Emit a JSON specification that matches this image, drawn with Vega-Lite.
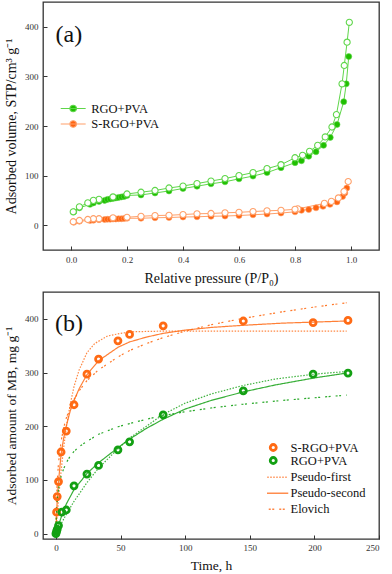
{
  "$schema": "https://vega.github.io/schema/vega-lite/v6.json",
  "padding": {"left": 3, "top": 1, "right": 9, "bottom": 2},
  "spacing": 5,
  "datasets": {
    "iso": [
      {"s": "RGO+PVA", "b": "ads", "p": 0.01, "v": 27},
      {"s": "RGO+PVA", "b": "ads", "p": 0.03, "v": 35},
      {"s": "RGO+PVA", "b": "ads", "p": 0.068, "v": 42},
      {"s": "RGO+PVA", "b": "ads", "p": 0.08, "v": 45},
      {"s": "RGO+PVA", "b": "ads", "p": 0.10, "v": 48},
      {"s": "RGO+PVA", "b": "ads", "p": 0.12, "v": 50},
      {"s": "RGO+PVA", "b": "ads", "p": 0.13, "v": 52},
      {"s": "RGO+PVA", "b": "ads", "p": 0.14, "v": 53},
      {"s": "RGO+PVA", "b": "ads", "p": 0.15, "v": 54},
      {"s": "RGO+PVA", "b": "ads", "p": 0.16, "v": 55},
      {"s": "RGO+PVA", "b": "ads", "p": 0.17, "v": 56},
      {"s": "RGO+PVA", "b": "ads", "p": 0.18, "v": 57},
      {"s": "RGO+PVA", "b": "ads", "p": 0.19, "v": 58},
      {"s": "RGO+PVA", "b": "ads", "p": 0.20, "v": 60},
      {"s": "RGO+PVA", "b": "ads", "p": 0.25, "v": 61},
      {"s": "RGO+PVA", "b": "ads", "p": 0.30, "v": 65},
      {"s": "RGO+PVA", "b": "ads", "p": 0.35, "v": 69},
      {"s": "RGO+PVA", "b": "ads", "p": 0.40, "v": 74},
      {"s": "RGO+PVA", "b": "ads", "p": 0.45, "v": 78.6},
      {"s": "RGO+PVA", "b": "ads", "p": 0.50, "v": 83.5},
      {"s": "RGO+PVA", "b": "ads", "p": 0.55, "v": 87.5},
      {"s": "RGO+PVA", "b": "ads", "p": 0.60, "v": 93.5},
      {"s": "RGO+PVA", "b": "ads", "p": 0.65, "v": 99},
      {"s": "RGO+PVA", "b": "ads", "p": 0.70, "v": 106},
      {"s": "RGO+PVA", "b": "ads", "p": 0.75, "v": 116},
      {"s": "RGO+PVA", "b": "ads", "p": 0.80, "v": 126},
      {"s": "RGO+PVA", "b": "ads", "p": 0.823, "v": 130},
      {"s": "RGO+PVA", "b": "ads", "p": 0.849, "v": 139},
      {"s": "RGO+PVA", "b": "ads", "p": 0.875, "v": 148},
      {"s": "RGO+PVA", "b": "ads", "p": 0.902, "v": 161},
      {"s": "RGO+PVA", "b": "ads", "p": 0.926, "v": 177},
      {"s": "RGO+PVA", "b": "ads", "p": 0.95, "v": 203},
      {"s": "RGO+PVA", "b": "ads", "p": 0.974, "v": 249},
      {"s": "RGO+PVA", "b": "ads", "p": 0.983, "v": 285},
      {"s": "RGO+PVA", "b": "ads", "p": 0.992, "v": 340},
      {"s": "RGO+PVA", "b": "des", "p": 0.994, "v": 409},
      {"s": "RGO+PVA", "b": "des", "p": 0.986, "v": 369},
      {"s": "RGO+PVA", "b": "des", "p": 0.976, "v": 322},
      {"s": "RGO+PVA", "b": "des", "p": 0.968, "v": 285},
      {"s": "RGO+PVA", "b": "des", "p": 0.948, "v": 223},
      {"s": "RGO+PVA", "b": "des", "p": 0.932, "v": 198},
      {"s": "RGO+PVA", "b": "des", "p": 0.908, "v": 178},
      {"s": "RGO+PVA", "b": "des", "p": 0.881, "v": 161},
      {"s": "RGO+PVA", "b": "des", "p": 0.852, "v": 149},
      {"s": "RGO+PVA", "b": "des", "p": 0.827, "v": 141},
      {"s": "RGO+PVA", "b": "des", "p": 0.80, "v": 136},
      {"s": "RGO+PVA", "b": "des", "p": 0.75, "v": 122},
      {"s": "RGO+PVA", "b": "des", "p": 0.70, "v": 114},
      {"s": "RGO+PVA", "b": "des", "p": 0.65, "v": 106},
      {"s": "RGO+PVA", "b": "des", "p": 0.60, "v": 100},
      {"s": "RGO+PVA", "b": "des", "p": 0.55, "v": 94},
      {"s": "RGO+PVA", "b": "des", "p": 0.50, "v": 89},
      {"s": "RGO+PVA", "b": "des", "p": 0.45, "v": 84},
      {"s": "RGO+PVA", "b": "des", "p": 0.40, "v": 79},
      {"s": "RGO+PVA", "b": "des", "p": 0.35, "v": 75},
      {"s": "RGO+PVA", "b": "des", "p": 0.30, "v": 70},
      {"s": "RGO+PVA", "b": "des", "p": 0.25, "v": 66.5},
      {"s": "RGO+PVA", "b": "des", "p": 0.20, "v": 63},
      {"s": "RGO+PVA", "b": "des", "p": 0.15, "v": 57},
      {"s": "RGO+PVA", "b": "des", "p": 0.10, "v": 52},
      {"s": "RGO+PVA", "b": "des", "p": 0.08, "v": 50},
      {"s": "RGO+PVA", "b": "des", "p": 0.06, "v": 45},
      {"s": "RGO+PVA", "b": "des", "p": 0.03, "v": 37},
      {"s": "RGO+PVA", "b": "des", "p": 0.008, "v": 27},
      {"s": "S-RGO+PVA", "b": "ads", "p": 0.01, "v": 6},
      {"s": "S-RGO+PVA", "b": "ads", "p": 0.03, "v": 8},
      {"s": "S-RGO+PVA", "b": "ads", "p": 0.068, "v": 9.5},
      {"s": "S-RGO+PVA", "b": "ads", "p": 0.08, "v": 10},
      {"s": "S-RGO+PVA", "b": "ads", "p": 0.10, "v": 11},
      {"s": "S-RGO+PVA", "b": "ads", "p": 0.12, "v": 11.5},
      {"s": "S-RGO+PVA", "b": "ads", "p": 0.13, "v": 12},
      {"s": "S-RGO+PVA", "b": "ads", "p": 0.14, "v": 12},
      {"s": "S-RGO+PVA", "b": "ads", "p": 0.15, "v": 12.5},
      {"s": "S-RGO+PVA", "b": "ads", "p": 0.16, "v": 12.5},
      {"s": "S-RGO+PVA", "b": "ads", "p": 0.17, "v": 13},
      {"s": "S-RGO+PVA", "b": "ads", "p": 0.18, "v": 13},
      {"s": "S-RGO+PVA", "b": "ads", "p": 0.19, "v": 13.5},
      {"s": "S-RGO+PVA", "b": "ads", "p": 0.20, "v": 14},
      {"s": "S-RGO+PVA", "b": "ads", "p": 0.25, "v": 14},
      {"s": "S-RGO+PVA", "b": "ads", "p": 0.30, "v": 15},
      {"s": "S-RGO+PVA", "b": "ads", "p": 0.35, "v": 15.5},
      {"s": "S-RGO+PVA", "b": "ads", "p": 0.40, "v": 16.5},
      {"s": "S-RGO+PVA", "b": "ads", "p": 0.45, "v": 17},
      {"s": "S-RGO+PVA", "b": "ads", "p": 0.50, "v": 18},
      {"s": "S-RGO+PVA", "b": "ads", "p": 0.55, "v": 18.5},
      {"s": "S-RGO+PVA", "b": "ads", "p": 0.60, "v": 19.5},
      {"s": "S-RGO+PVA", "b": "ads", "p": 0.65, "v": 21},
      {"s": "S-RGO+PVA", "b": "ads", "p": 0.70, "v": 22.5},
      {"s": "S-RGO+PVA", "b": "ads", "p": 0.75, "v": 24.5},
      {"s": "S-RGO+PVA", "b": "ads", "p": 0.80, "v": 27},
      {"s": "S-RGO+PVA", "b": "ads", "p": 0.823, "v": 30},
      {"s": "S-RGO+PVA", "b": "ads", "p": 0.849, "v": 31.5},
      {"s": "S-RGO+PVA", "b": "ads", "p": 0.875, "v": 35},
      {"s": "S-RGO+PVA", "b": "ads", "p": 0.90, "v": 38},
      {"s": "S-RGO+PVA", "b": "ads", "p": 0.925, "v": 42},
      {"s": "S-RGO+PVA", "b": "ads", "p": 0.95, "v": 47},
      {"s": "S-RGO+PVA", "b": "ads", "p": 0.97, "v": 58},
      {"s": "S-RGO+PVA", "b": "ads", "p": 0.978, "v": 65},
      {"s": "S-RGO+PVA", "b": "ads", "p": 0.985, "v": 75},
      {"s": "S-RGO+PVA", "b": "des", "p": 0.99, "v": 88},
      {"s": "S-RGO+PVA", "b": "des", "p": 0.975, "v": 68},
      {"s": "S-RGO+PVA", "b": "des", "p": 0.955, "v": 55},
      {"s": "S-RGO+PVA", "b": "des", "p": 0.93, "v": 48},
      {"s": "S-RGO+PVA", "b": "des", "p": 0.905, "v": 44},
      {"s": "S-RGO+PVA", "b": "des", "p": 0.81, "v": 33},
      {"s": "S-RGO+PVA", "b": "des", "p": 0.80, "v": 32},
      {"s": "S-RGO+PVA", "b": "des", "p": 0.75, "v": 30},
      {"s": "S-RGO+PVA", "b": "des", "p": 0.70, "v": 29},
      {"s": "S-RGO+PVA", "b": "des", "p": 0.65, "v": 27.5},
      {"s": "S-RGO+PVA", "b": "des", "p": 0.60, "v": 26},
      {"s": "S-RGO+PVA", "b": "des", "p": 0.55, "v": 25},
      {"s": "S-RGO+PVA", "b": "des", "p": 0.50, "v": 23.6},
      {"s": "S-RGO+PVA", "b": "des", "p": 0.45, "v": 23},
      {"s": "S-RGO+PVA", "b": "des", "p": 0.40, "v": 21.5},
      {"s": "S-RGO+PVA", "b": "des", "p": 0.35, "v": 20},
      {"s": "S-RGO+PVA", "b": "des", "p": 0.30, "v": 19.5},
      {"s": "S-RGO+PVA", "b": "des", "p": 0.25, "v": 18},
      {"s": "S-RGO+PVA", "b": "des", "p": 0.20, "v": 16},
      {"s": "S-RGO+PVA", "b": "des", "p": 0.15, "v": 15},
      {"s": "S-RGO+PVA", "b": "des", "p": 0.10, "v": 13},
      {"s": "S-RGO+PVA", "b": "des", "p": 0.08, "v": 13},
      {"s": "S-RGO+PVA", "b": "des", "p": 0.06, "v": 11.5},
      {"s": "S-RGO+PVA", "b": "des", "p": 0.03, "v": 9.5},
      {"s": "S-RGO+PVA", "b": "des", "p": 0.008, "v": 7}
    ],
    "kin": [
      {"s": "S-RGO+PVA", "t": 0.5, "q": 40},
      {"s": "S-RGO+PVA", "t": 1, "q": 69},
      {"s": "S-RGO+PVA", "t": 2, "q": 97},
      {"s": "S-RGO+PVA", "t": 4, "q": 152},
      {"s": "S-RGO+PVA", "t": 8, "q": 191},
      {"s": "S-RGO+PVA", "t": 14, "q": 240},
      {"s": "S-RGO+PVA", "t": 24, "q": 297},
      {"s": "S-RGO+PVA", "t": 33, "q": 325},
      {"s": "S-RGO+PVA", "t": 48, "q": 359},
      {"s": "S-RGO+PVA", "t": 57, "q": 371},
      {"s": "S-RGO+PVA", "t": 83, "q": 387},
      {"s": "S-RGO+PVA", "t": 145, "q": 396},
      {"s": "S-RGO+PVA", "t": 199, "q": 393},
      {"s": "S-RGO+PVA", "t": 226, "q": 397},
      {"s": "RGO+PVA", "t": 0, "q": 0},
      {"s": "RGO+PVA", "t": 0.5, "q": 4},
      {"s": "RGO+PVA", "t": 1, "q": 8},
      {"s": "RGO+PVA", "t": 2, "q": 15},
      {"s": "RGO+PVA", "t": 4.6, "q": 40},
      {"s": "RGO+PVA", "t": 8, "q": 44},
      {"s": "RGO+PVA", "t": 14, "q": 89},
      {"s": "RGO+PVA", "t": 24, "q": 111},
      {"s": "RGO+PVA", "t": 33, "q": 127},
      {"s": "RGO+PVA", "t": 48, "q": 156},
      {"s": "RGO+PVA", "t": 57, "q": 171},
      {"s": "RGO+PVA", "t": 83, "q": 221},
      {"s": "RGO+PVA", "t": 145, "q": 266},
      {"s": "RGO+PVA", "t": 199, "q": 297},
      {"s": "RGO+PVA", "t": 226, "q": 299}
    ],
    "fit": [
      {"s": "S-RGO+PVA", "m": "Pseudo-first", "t": 0, "q": 0},
      {"s": "S-RGO+PVA", "m": "Pseudo-first", "t": 1, "q": 32},
      {"s": "S-RGO+PVA", "m": "Pseudo-first", "t": 2, "q": 64},
      {"s": "S-RGO+PVA", "m": "Pseudo-first", "t": 4, "q": 117},
      {"s": "S-RGO+PVA", "m": "Pseudo-first", "t": 6, "q": 160},
      {"s": "S-RGO+PVA", "m": "Pseudo-first", "t": 8, "q": 198},
      {"s": "S-RGO+PVA", "m": "Pseudo-first", "t": 11, "q": 240},
      {"s": "S-RGO+PVA", "m": "Pseudo-first", "t": 14, "q": 274},
      {"s": "S-RGO+PVA", "m": "Pseudo-first", "t": 18, "q": 305},
      {"s": "S-RGO+PVA", "m": "Pseudo-first", "t": 24, "q": 337},
      {"s": "S-RGO+PVA", "m": "Pseudo-first", "t": 30, "q": 354},
      {"s": "S-RGO+PVA", "m": "Pseudo-first", "t": 40, "q": 368},
      {"s": "S-RGO+PVA", "m": "Pseudo-first", "t": 50, "q": 373},
      {"s": "S-RGO+PVA", "m": "Pseudo-first", "t": 60, "q": 376},
      {"s": "S-RGO+PVA", "m": "Pseudo-first", "t": 80, "q": 377},
      {"s": "S-RGO+PVA", "m": "Pseudo-first", "t": 120, "q": 377},
      {"s": "S-RGO+PVA", "m": "Pseudo-first", "t": 160, "q": 377},
      {"s": "S-RGO+PVA", "m": "Pseudo-first", "t": 225, "q": 377},
      {"s": "S-RGO+PVA", "m": "Pseudo-second", "t": 0, "q": 0},
      {"s": "S-RGO+PVA", "m": "Pseudo-second", "t": 0.5, "q": 35},
      {"s": "S-RGO+PVA", "m": "Pseudo-second", "t": 1, "q": 62},
      {"s": "S-RGO+PVA", "m": "Pseudo-second", "t": 2, "q": 97},
      {"s": "S-RGO+PVA", "m": "Pseudo-second", "t": 4, "q": 148},
      {"s": "S-RGO+PVA", "m": "Pseudo-second", "t": 6, "q": 178},
      {"s": "S-RGO+PVA", "m": "Pseudo-second", "t": 8, "q": 200},
      {"s": "S-RGO+PVA", "m": "Pseudo-second", "t": 11, "q": 228},
      {"s": "S-RGO+PVA", "m": "Pseudo-second", "t": 14, "q": 248},
      {"s": "S-RGO+PVA", "m": "Pseudo-second", "t": 18, "q": 270},
      {"s": "S-RGO+PVA", "m": "Pseudo-second", "t": 24, "q": 296},
      {"s": "S-RGO+PVA", "m": "Pseudo-second", "t": 33, "q": 322},
      {"s": "S-RGO+PVA", "m": "Pseudo-second", "t": 48, "q": 347},
      {"s": "S-RGO+PVA", "m": "Pseudo-second", "t": 57, "q": 357},
      {"s": "S-RGO+PVA", "m": "Pseudo-second", "t": 70, "q": 366},
      {"s": "S-RGO+PVA", "m": "Pseudo-second", "t": 83, "q": 373},
      {"s": "S-RGO+PVA", "m": "Pseudo-second", "t": 100, "q": 379},
      {"s": "S-RGO+PVA", "m": "Pseudo-second", "t": 120, "q": 384},
      {"s": "S-RGO+PVA", "m": "Pseudo-second", "t": 145, "q": 388},
      {"s": "S-RGO+PVA", "m": "Pseudo-second", "t": 175, "q": 392},
      {"s": "S-RGO+PVA", "m": "Pseudo-second", "t": 200, "q": 394},
      {"s": "S-RGO+PVA", "m": "Pseudo-second", "t": 225, "q": 396},
      {"s": "S-RGO+PVA", "m": "Elovich", "t": 0, "q": 0},
      {"s": "S-RGO+PVA", "m": "Elovich", "t": 0.25, "q": 39},
      {"s": "S-RGO+PVA", "m": "Elovich", "t": 0.5, "q": 63},
      {"s": "S-RGO+PVA", "m": "Elovich", "t": 1, "q": 95},
      {"s": "S-RGO+PVA", "m": "Elovich", "t": 2, "q": 132},
      {"s": "S-RGO+PVA", "m": "Elovich", "t": 4, "q": 172},
      {"s": "S-RGO+PVA", "m": "Elovich", "t": 6, "q": 197},
      {"s": "S-RGO+PVA", "m": "Elovich", "t": 8, "q": 215},
      {"s": "S-RGO+PVA", "m": "Elovich", "t": 11, "q": 235},
      {"s": "S-RGO+PVA", "m": "Elovich", "t": 14, "q": 250},
      {"s": "S-RGO+PVA", "m": "Elovich", "t": 18, "q": 266},
      {"s": "S-RGO+PVA", "m": "Elovich", "t": 24, "q": 285},
      {"s": "S-RGO+PVA", "m": "Elovich", "t": 33, "q": 305},
      {"s": "S-RGO+PVA", "m": "Elovich", "t": 48, "q": 329},
      {"s": "S-RGO+PVA", "m": "Elovich", "t": 57, "q": 341},
      {"s": "S-RGO+PVA", "m": "Elovich", "t": 70, "q": 354},
      {"s": "S-RGO+PVA", "m": "Elovich", "t": 83, "q": 365},
      {"s": "S-RGO+PVA", "m": "Elovich", "t": 100, "q": 377},
      {"s": "S-RGO+PVA", "m": "Elovich", "t": 120, "q": 389},
      {"s": "S-RGO+PVA", "m": "Elovich", "t": 145, "q": 401},
      {"s": "S-RGO+PVA", "m": "Elovich", "t": 175, "q": 413},
      {"s": "S-RGO+PVA", "m": "Elovich", "t": 200, "q": 422},
      {"s": "S-RGO+PVA", "m": "Elovich", "t": 225, "q": 430},
      {"s": "RGO+PVA", "m": "Pseudo-first", "t": 0, "q": 0},
      {"s": "RGO+PVA", "m": "Pseudo-first", "t": 2, "q": 9},
      {"s": "RGO+PVA", "m": "Pseudo-first", "t": 4, "q": 18},
      {"s": "RGO+PVA", "m": "Pseudo-first", "t": 8, "q": 36},
      {"s": "RGO+PVA", "m": "Pseudo-first", "t": 14, "q": 60},
      {"s": "RGO+PVA", "m": "Pseudo-first", "t": 24, "q": 95},
      {"s": "RGO+PVA", "m": "Pseudo-first", "t": 33, "q": 122},
      {"s": "RGO+PVA", "m": "Pseudo-first", "t": 48, "q": 158},
      {"s": "RGO+PVA", "m": "Pseudo-first", "t": 57, "q": 178},
      {"s": "RGO+PVA", "m": "Pseudo-first", "t": 70, "q": 200},
      {"s": "RGO+PVA", "m": "Pseudo-first", "t": 83, "q": 222},
      {"s": "RGO+PVA", "m": "Pseudo-first", "t": 100, "q": 243},
      {"s": "RGO+PVA", "m": "Pseudo-first", "t": 120, "q": 260},
      {"s": "RGO+PVA", "m": "Pseudo-first", "t": 145, "q": 276},
      {"s": "RGO+PVA", "m": "Pseudo-first", "t": 170, "q": 288},
      {"s": "RGO+PVA", "m": "Pseudo-first", "t": 200, "q": 297},
      {"s": "RGO+PVA", "m": "Pseudo-first", "t": 225, "q": 302},
      {"s": "RGO+PVA", "m": "Pseudo-second", "t": 0, "q": 0},
      {"s": "RGO+PVA", "m": "Pseudo-second", "t": 1, "q": 8},
      {"s": "RGO+PVA", "m": "Pseudo-second", "t": 2, "q": 15},
      {"s": "RGO+PVA", "m": "Pseudo-second", "t": 4, "q": 30},
      {"s": "RGO+PVA", "m": "Pseudo-second", "t": 8, "q": 55},
      {"s": "RGO+PVA", "m": "Pseudo-second", "t": 14, "q": 82},
      {"s": "RGO+PVA", "m": "Pseudo-second", "t": 24, "q": 112},
      {"s": "RGO+PVA", "m": "Pseudo-second", "t": 33, "q": 132},
      {"s": "RGO+PVA", "m": "Pseudo-second", "t": 48, "q": 160},
      {"s": "RGO+PVA", "m": "Pseudo-second", "t": 57, "q": 176},
      {"s": "RGO+PVA", "m": "Pseudo-second", "t": 70, "q": 196},
      {"s": "RGO+PVA", "m": "Pseudo-second", "t": 83, "q": 213},
      {"s": "RGO+PVA", "m": "Pseudo-second", "t": 100, "q": 232},
      {"s": "RGO+PVA", "m": "Pseudo-second", "t": 120, "q": 248},
      {"s": "RGO+PVA", "m": "Pseudo-second", "t": 145, "q": 264},
      {"s": "RGO+PVA", "m": "Pseudo-second", "t": 170, "q": 277},
      {"s": "RGO+PVA", "m": "Pseudo-second", "t": 200, "q": 290},
      {"s": "RGO+PVA", "m": "Pseudo-second", "t": 225, "q": 299},
      {"s": "RGO+PVA", "m": "Elovich", "t": 0, "q": 0},
      {"s": "RGO+PVA", "m": "Elovich", "t": 0.25, "q": 26},
      {"s": "RGO+PVA", "m": "Elovich", "t": 0.5, "q": 41},
      {"s": "RGO+PVA", "m": "Elovich", "t": 1, "q": 60},
      {"s": "RGO+PVA", "m": "Elovich", "t": 2, "q": 83},
      {"s": "RGO+PVA", "m": "Elovich", "t": 4, "q": 107},
      {"s": "RGO+PVA", "m": "Elovich", "t": 6, "q": 121},
      {"s": "RGO+PVA", "m": "Elovich", "t": 8, "q": 132},
      {"s": "RGO+PVA", "m": "Elovich", "t": 11, "q": 144},
      {"s": "RGO+PVA", "m": "Elovich", "t": 14, "q": 153},
      {"s": "RGO+PVA", "m": "Elovich", "t": 18, "q": 162},
      {"s": "RGO+PVA", "m": "Elovich", "t": 24, "q": 172},
      {"s": "RGO+PVA", "m": "Elovich", "t": 33, "q": 185},
      {"s": "RGO+PVA", "m": "Elovich", "t": 48, "q": 199},
      {"s": "RGO+PVA", "m": "Elovich", "t": 57, "q": 205},
      {"s": "RGO+PVA", "m": "Elovich", "t": 70, "q": 213},
      {"s": "RGO+PVA", "m": "Elovich", "t": 83, "q": 220},
      {"s": "RGO+PVA", "m": "Elovich", "t": 100, "q": 227},
      {"s": "RGO+PVA", "m": "Elovich", "t": 120, "q": 234},
      {"s": "RGO+PVA", "m": "Elovich", "t": 145, "q": 241},
      {"s": "RGO+PVA", "m": "Elovich", "t": 175, "q": 248},
      {"s": "RGO+PVA", "m": "Elovich", "t": 200, "q": 253},
      {"s": "RGO+PVA", "m": "Elovich", "t": 225, "q": 258}
    ],
    "tags": [
      {"panel": "a", "x": -0.055, "y": 384, "label": "(a)"},
      {"panel": "b", "x": -0.8, "y": 391, "label": "(b)"}
    ]
  },
  "resolve": {
    "scale": {"x": "independent", "y": "independent", "stroke": "independent", "fill": "independent", "strokeDash": "independent", "opacity": "independent"},
    "legend": {"stroke": "independent", "fill": "independent", "strokeDash": "independent", "opacity": "independent"}
  },
  "vconcat": [
    {
      "width": 336,
      "height": 248,
      "layer": [
        {
          "data": {"name": "iso"},
          "mark": {"type": "line", "strokeWidth": 1},
          "encoding": {
            "x": {"field": "p", "type": "quantitative", "scale": {"domain": [-0.1, 1.1], "nice": false, "zero": false},
              "axis": {"values": [0, 0.1, 0.2, 0.3, 0.4, 0.5, 0.6, 0.7, 0.8, 0.9, 1.0], "labelExpr": "round(datum.value*10) % 2 === 0 ? format(datum.value, '.1f') : ''", "title": "Relative pressure (P/P₀)", "titleFontSize": 14, "titlePadding": 7, "labelFontSize": 9, "labelPadding": 9, "labelFont": "Liberation Serif", "titleFont": "Liberation Serif"}},
            "y": {"field": "v", "type": "quantitative", "scale": {"domain": [-50, 450], "nice": false, "zero": false},
              "axis": {"values": [0, 50, 100, 150, 200, 250, 300, 350, 400], "labelExpr": "datum.value % 100 === 0 ? datum.label : ''", "title": "Adsorbed volume, STP/cm³ g⁻¹", "titleFontSize": 14, "titlePadding": 6, "labelFontSize": 9, "labelPadding": 9, "labelFont": "Liberation Serif", "titleFont": "Liberation Serif"}},
            "detail": {"field": "b"},
            "stroke": {"field": "s", "type": "nominal", "scale": {"domain": ["RGO+PVA", "S-RGO+PVA"], "range": ["#5fd64a", "#ffa06a"]},
              "legend": {"title": null, "orient": "none", "legendX": 21.7, "legendY": 98, "symbolType": "M-1.6,0L1.6,0M0.42,0A0.42,0.42,0,1,1,-0.42,0A0.42,0.42,0,1,1,0.42,0", "symbolSize": 243, "symbolStrokeWidth": 1.2, "labelFontSize": 12.5, "labelOffset": 9.5, "rowPadding": 0.5, "labelColor": "#111", "labelFont": "Liberation Serif"}}
          }
        },
        {
          "data": {"name": "iso"},
          "transform": [{"filter": "datum.b === 'ads'"}],
          "mark": {"type": "point", "shape": "circle", "filled": true, "size": 36, "strokeWidth": 0.6, "opacity": 1},
          "encoding": {
            "x": {"field": "p", "type": "quantitative"},
            "y": {"field": "v", "type": "quantitative"},
            "fill": {"field": "s", "type": "nominal", "scale": {"domain": ["RGO+PVA", "S-RGO+PVA"], "range": ["#1fbf00", "#ff6410"]},
              "legend": {"title": null, "orient": "none", "legendX": 21.7, "legendY": 98, "symbolType": "M-1.6,0L1.6,0M0.42,0A0.42,0.42,0,1,1,-0.42,0A0.42,0.42,0,1,1,0.42,0", "symbolSize": 243, "symbolStrokeWidth": 1.2, "labelFontSize": 12.5, "labelOffset": 9.5, "rowPadding": 0.5, "labelColor": "#111", "labelFont": "Liberation Serif"}},
            "stroke": {"field": "s", "type": "nominal"}
          }
        },
        {
          "data": {"name": "iso"},
          "transform": [{"filter": "datum.b === 'des'"}],
          "mark": {"type": "point", "shape": "circle", "filled": false, "fill": "white", "fillOpacity": 1, "size": 38, "strokeWidth": 1.1, "opacity": 1},
          "encoding": {
            "x": {"field": "p", "type": "quantitative"},
            "y": {"field": "v", "type": "quantitative"},
            "stroke": {"field": "s", "type": "nominal"}
          }
        },
        {
          "data": {"name": "tags"},
          "transform": [{"filter": "datum.panel === 'a'"}],
          "mark": {"type": "text", "align": "left", "baseline": "middle", "fontSize": 24, "font": "Liberation Serif", "color": "#111"},
          "encoding": {
            "x": {"field": "x", "type": "quantitative"},
            "y": {"field": "y", "type": "quantitative"},
            "text": {"field": "label"}
          }
        }
      ]
    },
    {
      "width": 336,
      "height": 247,
      "layer": [
        {
          "data": {"name": "fit"},
          "mark": {"type": "line", "strokeWidth": 1.2},
          "encoding": {
            "x": {"field": "t", "type": "quantitative", "scale": {"domain": [-10, 250], "nice": false, "zero": false},
              "axis": {"values": [0, 25, 50, 75, 100, 125, 150, 175, 200, 225, 250], "labelExpr": "datum.value % 50 === 0 ? datum.label : ''", "title": "Time, h", "titleFontSize": 13.5, "titlePadding": 6, "labelFontSize": 9, "labelPadding": 8, "labelFont": "Liberation Serif", "titleFont": "Liberation Serif"}},
            "y": {"field": "q", "type": "quantitative", "scale": {"domain": [-10, 450], "nice": false, "zero": false},
              "axis": {"values": [0, 50, 100, 150, 200, 250, 300, 350, 400], "labelExpr": "datum.value % 100 === 0 ? datum.label : ''", "title": "Adsorbed amount of MB, mg g⁻¹", "titleFontSize": 13.5, "titlePadding": 6, "labelFontSize": 9, "labelPadding": 9, "labelFont": "Liberation Serif", "titleFont": "Liberation Serif"}},
            "detail": {"field": "m"},
            "stroke": {"field": "s", "type": "nominal", "scale": {"domain": ["S-RGO+PVA", "RGO+PVA"], "range": ["#ff6a14", "#13a013"]},
              "legend": {"title": null, "orient": "none", "legendX": 224, "legendY": 149.5, "symbolType": "circle", "symbolSize": 36, "symbolStrokeWidth": 2.8, "labelFontSize": 12.5, "labelOffset": 11, "rowPadding": 0, "clipHeight": 12, "labelColor": "#111", "labelFont": "Liberation Serif"}},
            "strokeDash": {"field": "m", "type": "nominal", "scale": {"domain": ["Pseudo-first", "Pseudo-second", "Elovich"], "range": [[1.5, 1.5], [1, 0], [2, 1.5, 2, 5]]},
              "legend": {"title": null, "orient": "none", "legendX": 224, "legendY": 177.5, "symbolType": "M-3,0L3,0", "symbolSize": 100, "symbolStrokeColor": "#ff7a30", "symbolStrokeWidth": 1.3, "labelFontSize": 12.5, "labelOffset": 11, "rowPadding": 0, "clipHeight": 15.5, "labelColor": "#111", "labelFont": "Liberation Serif"}},
            "opacity": {"field": "m", "type": "nominal", "scale": {"domain": ["Pseudo-first", "Pseudo-second", "Elovich"], "range": [0.8, 0.9, 0.45]},
              "legend": {"title": null, "orient": "none", "legendX": 224, "legendY": 177.5, "symbolType": "M-3,0L3,0", "symbolSize": 100, "symbolStrokeColor": "#ff7a30", "symbolStrokeWidth": 1.3, "labelFontSize": 12.5, "labelOffset": 11, "rowPadding": 0, "clipHeight": 15.5, "labelColor": "#111", "labelFont": "Liberation Serif"}}
          }
        },
        {
          "data": {"name": "kin"},
          "mark": {"type": "point", "shape": "circle", "filled": false, "size": 36, "strokeWidth": 2.8, "opacity": 1},
          "encoding": {
            "x": {"field": "t", "type": "quantitative"},
            "y": {"field": "q", "type": "quantitative"},
            "stroke": {"field": "s", "type": "nominal"}
          }
        },
        {
          "data": {"name": "tags"},
          "transform": [{"filter": "datum.panel === 'b'"}],
          "mark": {"type": "text", "align": "left", "baseline": "middle", "fontSize": 24, "font": "Liberation Serif", "color": "#111"},
          "encoding": {
            "x": {"field": "x", "type": "quantitative"},
            "y": {"field": "y", "type": "quantitative"},
            "text": {"field": "label"}
          }
        }
      ]
    }
  ],
  "config": {
    "font": "Liberation Serif",
    "view": {"stroke": "#333", "strokeWidth": 1.3},
    "axis": {"grid": false, "domain": false, "tickSize": -4, "tickColor": "#333", "labelColor": "#333", "titleColor": "#111", "titleFontWeight": "normal", "labelFont": "Liberation Serif", "titleFont": "Liberation Serif"},
    "legend": {"padding": 0, "labelFont": "Liberation Serif"}
  }
}
